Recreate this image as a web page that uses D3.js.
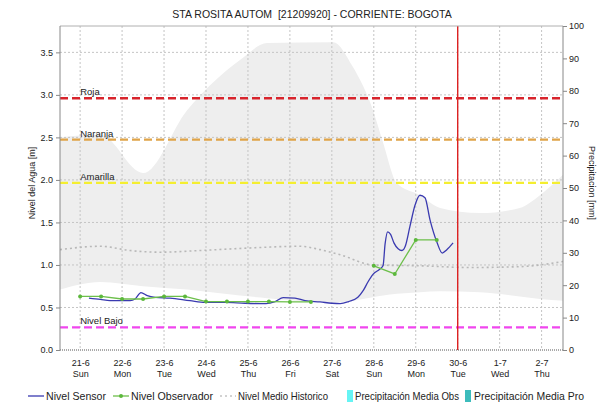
<!DOCTYPE html>
<html>
  <head>
    <script src="https://d3js.org/d3.v7.min.js"></script>
    <style>
      body {
        margin: 0px;
        background: white;
      }
      text {
        font-family: Arial, "Liberation Sans", sans-serif;
        fill: #222222;
      }
      .tick text {
        font-size: 9px;
      }
      .grid line {
        stroke: #c4c4c4;
        stroke-dasharray: 2,2;
      }
    </style>
  </head>
  <body>
    <svg width="598" height="404"></svg>
    <script>
      // days are counted from 21-6 00:00 (2020)
      var sensorDay = [0.21, 0.48, 0.71, 1.19, 1.31, 1.45, 1.60, 1.79, 2.14, 2.62, 2.98, 3.45, 3.93, 4.43, 4.65, 4.84, 5.12, 5.36, 5.72, 6.0, 6.2, 6.4, 6.62, 6.75, 6.86, 6.98, 7.14, 7.22, 7.27, 7.33, 7.40, 7.48, 7.58, 7.67, 7.75, 7.86, 7.98, 8.10, 8.22, 8.34, 8.51, 8.63, 8.74, 8.89];
      var sensorLevel = [0.61, 0.595, 0.58, 0.58, 0.60, 0.675, 0.64, 0.62, 0.61, 0.58, 0.56, 0.56, 0.55, 0.545, 0.57, 0.615, 0.61, 0.58, 0.565, 0.55, 0.545, 0.57, 0.62, 0.70, 0.80, 0.89, 0.95, 0.99, 1.25, 1.39, 1.36, 1.26, 1.19, 1.17, 1.22, 1.45, 1.70, 1.82, 1.79, 1.53, 1.26, 1.14, 1.18, 1.26];

      var obsDay = [0, 0.5, 1, 1.5, 2, 2.5, 3, 3.5, 4, 4.5, 5, 5.5, 6, 6.5, 7, 7.5, 8, 8.5];
      var obsLevel = [0.63, 0.63, 0.60, 0.60, 0.63, 0.63, 0.57, 0.57, 0.57, 0.57, 0.565, 0.565, null, null, 0.99, 0.894, 1.294, 1.294];

      var bandDay = [-0.48, 0.48, 1.5, 2.55, 3.81, 4.46, 6.03, 6.5, 6.98, 7.22, 7.55, 8.1, 8.58, 9.53, 10.48, 10.96, 11.51];
      var bandMax = [2.5, 2.53, 2.08, 2.82, 3.41, 3.61, 3.62, 3.33, 2.82, 2.44, 1.96, 1.82, 1.67, 1.61, 1.67, 1.82, 2.06];
      var bandMin = [0.71, 0.80, 0.75, 0.71, 0.64, 0.61, 0.56, 0.58, 0.62, 0.64, 0.66, 0.68, 0.69, 0.68, 0.63, 0.60, 0.58];

      var meanDay = [-0.48, 0.48, 1.19, 1.91, 2.86, 4.05, 5.24, 5.72, 6.2, 6.98, 8.1, 9.29, 10.48, 11.51];
      var meanLevel = [1.18, 1.22, 1.17, 1.15, 1.17, 1.20, 1.22, 1.18, 1.12, 1.0, 0.99, 0.97, 0.98, 1.04];

      var thresholdNames = ["Roja", "Naranja", "Amarilla", "Nivel Bajo"];
      var thresholdLevels = [2.96, 2.475, 1.965, 0.267];
      var thresholdColors = ["#d8242c", "#e0a448", "#f4ee30", "#f046ee"];

      var tickDays = [0, 1, 2, 3, 4, 5, 6, 7, 8, 9, 10, 11];
      var tickDates = ["21-6", "22-6", "23-6", "24-6", "25-6", "26-6", "27-6", "28-6", "29-6", "30-6", "1-7", "2-7"];
      var tickWeekdays = ["Sun", "Mon", "Tue", "Wed", "Thu", "Fri", "Sat", "Sun", "Mon", "Tue", "Wed", "Thu"];
      var levelTicks = [0, 0.5, 1, 1.5, 2, 2.5, 3, 3.5];
      var rainTicks = [0, 10, 20, 30, 40, 50, 60, 70, 80, 90, 100];
      var nowDay = 9;

      var legendNames = ["Nivel Sensor", "Nivel Observador", "Nivel Medio Historico", "Precipitación Media Obs", "Precipitación Media Pro"];

      var start = new Date(2020, 5, 21).getTime();
      function toDate(d) { return new Date(start + d * 864e5); }

      var plotLeft = 60, plotRight = 563, plotTop = 26, plotBottom = 350;

      var svg = d3.select("svg");

      var x = d3.scaleTime()
        .domain([toDate(-0.48), toDate(11.51)])
        .range([plotLeft, plotRight]);
      var y = d3.scaleLinear().domain([0, 3.81]).range([plotBottom, plotTop]);
      var yRain = d3.scaleLinear().domain([0, 100]).range([plotBottom, plotTop]);

      // historic band
      var band = bandDay.map(function(d, i) { return {d: d, hi: bandMax[i], lo: bandMin[i]}; });
      svg.append("path")
        .datum(band)
        .attr("fill", "#eeeeee")
        .attr("d", d3.area()
          .curve(d3.curveMonotoneX)
          .x(function(d) { return x(toDate(d.d)); })
          .y0(function(d) { return y(d.lo); })
          .y1(function(d) { return y(d.hi); }));

      // grid
      svg.append("g").attr("class", "grid")
        .selectAll("line")
        .data(levelTicks.slice(1))
        .enter().append("line")
        .attr("x1", plotLeft).attr("x2", plotRight)
        .attr("y1", function(d) { return y(d); })
        .attr("y2", function(d) { return y(d); });
      svg.append("g").attr("class", "grid")
        .selectAll("line")
        .data(tickDays)
        .enter().append("line")
        .attr("x1", function(d) { return x(toDate(d)); })
        .attr("x2", function(d) { return x(toDate(d)); })
        .attr("y1", plotTop).attr("y2", plotBottom);

      // historic mean
      svg.append("path")
        .datum(meanDay.map(function(d, i) { return {d: d, v: meanLevel[i]}; }))
        .attr("fill", "none")
        .attr("stroke", "#b8b8b8")
        .attr("stroke-width", 1.6)
        .attr("stroke-dasharray", "2,3")
        .attr("d", d3.line()
          .curve(d3.curveMonotoneX)
          .x(function(d) { return x(toDate(d.d)); })
          .y(function(d) { return y(d.v); }));

      // thresholds
      var thr = svg.append("g").selectAll("g")
        .data(thresholdLevels)
        .enter().append("g");
      thr.append("line")
        .attr("x1", plotLeft).attr("x2", plotRight)
        .attr("y1", function(d) { return y(d); })
        .attr("y2", function(d) { return y(d); })
        .attr("stroke", function(d, i) { return thresholdColors[i]; })
        .attr("stroke-width", function(d, i) { return i == 0 ? 2.6 : 2.2; })
        .attr("stroke-dasharray", "8,4");
      thr.append("text")
        .attr("x", x(toDate(0)))
        .attr("y", function(d) { return y(d) - 3; })
        .style("font-size", "9.5px")
        .text(function(d, i) { return thresholdNames[i]; });

      // now line
      svg.append("line")
        .attr("x1", x(toDate(nowDay))).attr("x2", x(toDate(nowDay)))
        .attr("y1", plotTop).attr("y2", plotBottom)
        .attr("stroke", "#dc2222")
        .attr("stroke-width", 1.4);

      // sensor
      svg.append("path")
        .datum(sensorDay.map(function(d, i) { return {d: d, v: sensorLevel[i]}; }))
        .attr("fill", "none")
        .attr("stroke", "#3a3ab0")
        .attr("stroke-width", 1.3)
        .attr("d", d3.line()
          .curve(d3.curveMonotoneX)
          .x(function(d) { return x(toDate(d.d)); })
          .y(function(d) { return y(d.v); }));

      // observer
      var obs = obsDay.map(function(d, i) { return {d: d, v: obsLevel[i]}; });
      svg.append("path")
        .datum(obs)
        .attr("fill", "none")
        .attr("stroke", "#6cbf4a")
        .attr("stroke-width", 1.3)
        .attr("d", d3.line()
          .defined(function(d) { return d.v != null; })
          .x(function(d) { return x(toDate(d.d)); })
          .y(function(d) { return y(d.v); }));
      svg.append("g").selectAll("circle")
        .data(obs.filter(function(d) { return d.v != null; }))
        .enter().append("circle")
        .attr("cx", function(d) { return x(toDate(d.d)); })
        .attr("cy", function(d) { return y(d.v); })
        .attr("r", 2)
        .attr("fill", "#5cb83c");

      // frame
      svg.append("line")
        .attr("x1", plotLeft).attr("x2", plotRight).attr("y1", plotTop).attr("y2", plotTop)
        .attr("stroke", "#b0b0b0");
      svg.append("line")
        .attr("x1", plotLeft).attr("x2", plotRight).attr("y1", plotBottom).attr("y2", plotBottom)
        .attr("stroke", "#555555")
        .attr("stroke-dasharray", "1,1");

      // axes
      var yAxis = d3.axisLeft(y).tickValues(levelTicks).tickFormat(d3.format(".1f")).tickSize(4).tickPadding(3);
      var gl = svg.append("g").attr("transform", "translate(" + plotLeft + ",0)").call(yAxis);
      gl.select(".domain").attr("stroke", "#888888").attr("d", "M0," + plotTop + "V" + plotBottom);
      gl.selectAll(".tick line").attr("stroke", "#888888");

      var rAxis = d3.axisRight(yRain).tickValues(rainTicks).tickSize(4).tickPadding(2);
      var gr = svg.append("g").attr("transform", "translate(" + plotRight + ",0)").call(rAxis);
      gr.select(".domain").attr("stroke", "#888888").attr("d", "M0," + plotTop + "V" + plotBottom);
      gr.selectAll(".tick line").attr("stroke", "#888888");

      var xAxis = d3.axisBottom(x).tickValues(tickDays.map(toDate)).tickSize(0).tickFormat("");
      var gx = svg.append("g").attr("transform", "translate(0," + plotBottom + ")").call(xAxis);
      gx.select(".domain").remove();
      gx.selectAll(".tick").each(function(d, i) {
        var t = d3.select(this).append("text").attr("text-anchor", "middle").style("font-size", "9px");
        t.append("tspan").attr("x", 0).attr("y", 16).text(tickDates[i]);
        t.append("tspan").attr("x", 0).attr("y", 27).text(tickWeekdays[i]);
      });

      // titles
      svg.append("text")
        .attr("x", 312).attr("y", 18)
        .attr("text-anchor", "middle")
        .style("font-size", "10.5px")
        .style("white-space", "pre")
        .text("STA ROSITA AUTOM  [21209920] - CORRIENTE: BOGOTA");
      svg.append("text")
        .attr("transform", "translate(35,183) rotate(-90)")
        .attr("text-anchor", "middle")
        .style("font-size", "9px")
        .text("Nivel del Agua [m]");
      svg.append("text")
        .attr("transform", "translate(589,183) rotate(90)")
        .attr("text-anchor", "middle")
        .style("font-size", "9px")
        .text("Precipitacion [mm]");

      // legend
      var lg = svg.append("g").attr("transform", "translate(0,396)");
      lg.append("line").attr("x1", 28).attr("x2", 44).attr("y1", 0).attr("y2", 0)
        .attr("stroke", "#3a3ab0").attr("stroke-width", 1.3);
      lg.append("line").attr("x1", 113).attr("x2", 129).attr("y1", 0).attr("y2", 0)
        .attr("stroke", "#6cbf4a").attr("stroke-width", 1.3);
      lg.append("circle").attr("cx", 121).attr("cy", 0).attr("r", 2).attr("fill", "#5cb83c");
      lg.append("line").attr("x1", 220).attr("x2", 236).attr("y1", 0).attr("y2", 0)
        .attr("stroke", "#c4c4c4").attr("stroke-width", 1.3).attr("stroke-dasharray", "2,3");
      lg.append("rect").attr("x", 347).attr("y", -6).attr("width", 6).attr("height", 12).attr("fill", "#66f4f4");
      lg.append("rect").attr("x", 465).attr("y", -6).attr("width", 6).attr("height", 12).attr("fill", "#3cbcbc");
      var legendX = [46, 131, 238, 355, 474];
      var legendW = [60, 82, 90, 104, 110];
      lg.selectAll("text.lg")
        .data(legendNames)
        .enter().append("text")
        .attr("class", "lg")
        .attr("x", function(d, i) { return legendX[i]; })
        .attr("y", 4)
        .attr("textLength", function(d, i) { return legendW[i]; })
        .attr("lengthAdjust", "spacingAndGlyphs")
        .style("font-size", "10.5px")
        .text(function(d) { return d; });
    </script>
  </body>
</html>
